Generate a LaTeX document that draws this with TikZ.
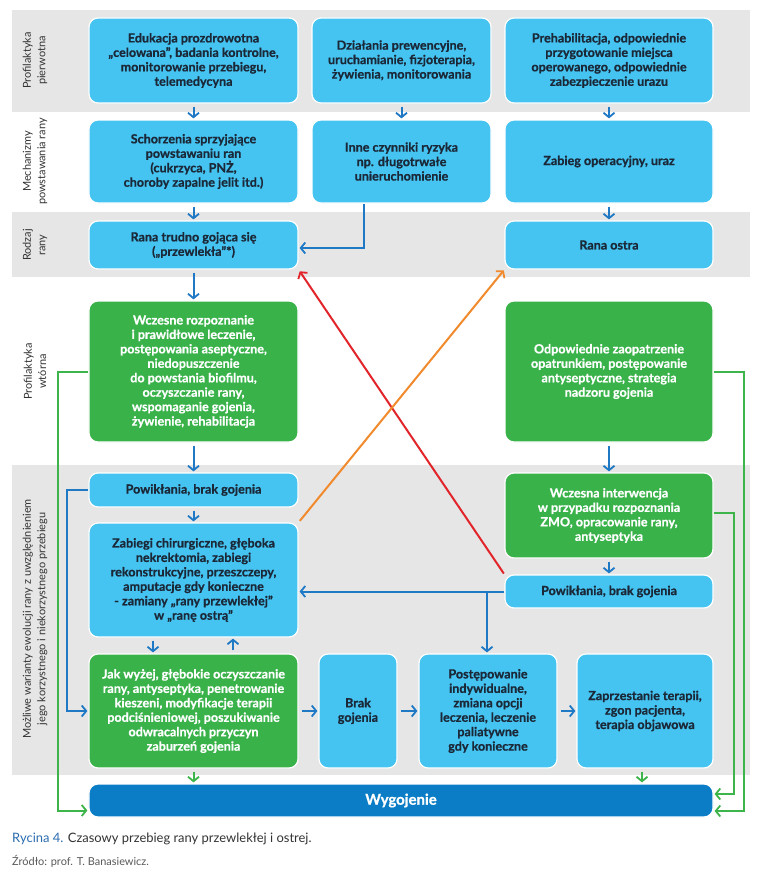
\documentclass[tikz,border=0pt]{standalone}
\usepackage{fontspec}
\setmainfont{Lato}[BoldFeatures={FakeBold=0.8}]
\usetikzlibrary{arrows.meta,calc}
\definecolor{lb}{HTML}{45C4F1}
\definecolor{gr}{HTML}{39B24A}
\definecolor{db}{HTML}{0A7DC6}
\definecolor{band}{HTML}{E6E6E6}
\definecolor{ab}{HTML}{1F79C4}
\definecolor{gl}{HTML}{3DB54A}
\definecolor{rd}{HTML}{E1252B}
\definecolor{orng}{HTML}{F18A2D}
\definecolor{tx}{HTML}{1B2838}
\definecolor{capblue}{HTML}{2B6CB0}
\tikzset{
  box/.style={rectangle, rounded corners=9bp, draw=white, line width=1.2bp, inner sep=2bp, align=center, font=\bfseries\fontsize{12.6}{14.5}\selectfont},
  bbox/.style={box, fill=lb, text=tx},
  gbox/.style={box, fill=gr, text=white},
  sz/.style 2 args={minimum width=#1, minimum height=#2},
  side/.style={rotate=90, align=center, text=black!80, font=\fontsize{11}{14.5}\selectfont},
  arr/.style={-{Straight Barb[length=4.5bp,width=11bp,line width=1.8bp]}, line width=2bp},
  sarr/.style={arr, shorten <=3bp, shorten >=1bp}
}
\begin{document}
\begin{tikzpicture}[x=1bp, y=-1bp]
\useasboundingbox[fill=white] (0,0) rectangle (776,872);
% bands
\fill[band] (12,10) rectangle (750,112);
\fill[band] (12,212) rectangle (750,277);
\fill[band] (12,465) rectangle (750,775);
% side labels
\node[side] (l1) at (35,60.5) {Profilaktyka\\pierwotna};
\node[side] (l2) at (35,161.5) {Mechanizmy\\powstawania rany};
\node[side] (l3) at (35,245) {Rodzaj\\rany};
\node[side] (l4) at (35,371.5) {Profilaktyka\\wtórna};
\node[side] (l5) at (35,619) {Możliwe warianty ewolucji rany z uwzględnieniem\\jego korzystnego i niekorzystnego przebiegu};
% row 1
\node[bbox, sz={209bp}{85bp}] (b1) at (193.5,60.5) {Edukacja prozdrowotna\\„celowana”, badania kontrolne,\\monitorowanie przebiegu,\\telemedycyna};
\node[bbox, sz={179bp}{85bp}] (b2) at (401.5,60.5) {Działania prewencyjne,\\uruchamianie, fizjoterapia,\\żywienia, monitorowania};
\node[bbox, sz={208bp}{85bp}] (b3) at (609,60.5) {Prehabilitacja, odpowiednie\\przygotowanie miejsca\\operowanego, odpowiednie\\zabezpieczenie urazu};
% row 2
\node[bbox, sz={209bp}{83bp}] (m1) at (193.5,161.5) {Schorzenia sprzyjające\\powstawaniu ran\\(cukrzyca, PNŻ,\\choroby zapalne jelit itd.)};
\node[bbox, sz={179bp}{83bp}] (m2) at (401.5,161.5) {Inne czynniki ryzyka\\np. długotrwałe\\unieruchomienie};
\node[bbox, sz={208bp}{83bp}] (m3) at (609,161.5) {Zabieg operacyjny, uraz};
% row 3
\node[bbox, sz={209bp}{48bp}] (r1) at (193.5,245) {Rana trudno gojąca się\\(„przewlekła”*)};
\node[bbox, sz={208bp}{48bp}] (r2) at (609,245) {Rana ostra};
% row 4
\node[gbox, sz={209bp}{141bp}] (g1) at (193.5,371.5) {Wczesne rozpoznanie\\i prawidłowe leczenie,\\postępowania aseptyczne,\\niedopuszczenie\\do powstania biofilmu,\\oczyszczanie rany,\\wspomaganie gojenia,\\żywienie, rehabilitacja};
\node[gbox, sz={208bp}{141bp}] (g2) at (609,371.5) {Odpowiednie zaopatrzenie\\opatrunkiem, postępowanie\\antyseptyczne, strategia\\nadzoru gojenia};
% row 5
\node[bbox, sz={209bp}{34bp}] (p1) at (193.5,490) {Powikłania, brak gojenia};
\node[bbox, sz={209bp}{114bp}] (z1) at (193.5,580) {Zabiegi chirurgiczne, głęboka\\nekrektomia, zabiegi\\rekonstrukcyjne, przeszczepy,\\amputacje gdy konieczne\\- zamiany „rany przewlekłej”\\w „ranę ostrą”};
\node[gbox, sz={208bp}{85bp}] (w1) at (609,515.5) {Wczesna interwencja\\w przypadku rozpoznania\\ZMO, opracowanie rany,\\antyseptyka};
\node[bbox, sz={208bp}{33bp}] (p2) at (609,591.5) {Powikłania, brak gojenia};
\node[gbox, sz={209bp}{114bp}] (j1) at (193.5,711) {Jak wyżej, głębokie oczyszczanie\\rany, antyseptyka, penetrowanie\\kieszeni, modyfikacje terapii\\podciśnieniowej, poszukiwanie\\odwracalnych przyczyn\\zaburzeń gojenia};
\node[bbox, sz={78bp}{114bp}] (k1) at (358,711) {Brak\\gojenia};
\node[bbox, sz={138bp}{114bp}] (s1) at (488,711) {Postępowanie\\indywidualne,\\zmiana opcji\\leczenia, leczenie\\paliatywne\\gdy konieczne};
\node[bbox, sz={136bp}{114bp}] (t1) at (645,711) {Zaprzestanie terapii,\\zgon pacjenta,\\terapia objawowa};
\node[box, fill=db, text=white, sz={624bp}{33bp}, font=\bfseries\fontsize{15}{17}\selectfont] (wy) at (401,800.5) {Wygojenie};
% caption
\node[anchor=west, inner sep=0, font=\fontsize{13}{15}\selectfont, text=black!80] (cap) at (12,839) {\textcolor{capblue}{Rycina 4.} Czasowy przebieg rany przewlekłej i ostrej.};
\node[anchor=west, inner sep=0, font=\fontsize{11}{13}\selectfont, text=black!65] (src) at (12,861) {Źródło: prof. T. Banasiewicz.};
% short blue arrows
\begin{scope}[ab]
\draw[sarr] (b1) -- (m1);
\draw[sarr] (b2) -- (m2);
\draw[sarr] (b3) -- (m3);
\draw[sarr] (m1) -- (r1);
\draw[sarr] (m3) -- (r2);
\draw[sarr] (r1) -- (g1);
\draw[sarr] (g1) -- (p1);
\draw[sarr] (g2) -- (w1);
\draw[sarr] (w1) -- (p2);
\draw[sarr] (p1) -- (z1);
\draw[sarr] ([xshift=-40.5bp]z1.south) -- ([xshift=-40.5bp]j1.north);
\draw[sarr] ([xshift=39.5bp]j1.north) -- ([xshift=39.5bp]z1.south);
\draw[sarr] (j1) -- (k1);
\draw[sarr] (k1) -- (s1);
\draw[sarr] (s1) -- (t1);
\draw[arr, shorten >=1bp] ([xshift=-37.5bp]m2.south) |- ([yshift=-3bp]r1.east);
\draw[arr, shorten >=1bp] (p1.west) -- ++(-21,0) |- (j1.west);
\draw[arr, shorten >=1bp] (p2.west) -- (p2.west -| z1.east);
\coordinate (br) at (487,591.5);
\draw[arr, shorten >=1bp] (br) -- (br |- s1.north);
\end{scope}
% green
\begin{scope}[gl]
\draw[sarr] (j1) -- (j1 |- wy.north);
\draw[sarr] ([xshift=-3bp]t1.south) -- ([xshift=-3bp]t1.south |- wy.north);
\draw[arr, shorten >=1bp] (g1.west) -- ++(-30,0) |- ([yshift=-10bp]wy.west);
\draw[arr, shorten >=1bp] (g2.east) -- ++(30,0) |- ([yshift=-10.5bp]wy.east);
\draw[arr, shorten >=1bp] ([yshift=2.5bp]w1.east) -- ++(20,0) |- ([yshift=6.5bp]wy.east);
\end{scope}
% diagonals
\draw[arr, rd, shorten <=1bp, shorten >=2bp] (p2.north west) -- (r1.south east);
\draw[arr, orng, shorten <=2bp, shorten >=1bp] (z1.north east) -- (r2.south west);
\end{tikzpicture}
\end{document}
